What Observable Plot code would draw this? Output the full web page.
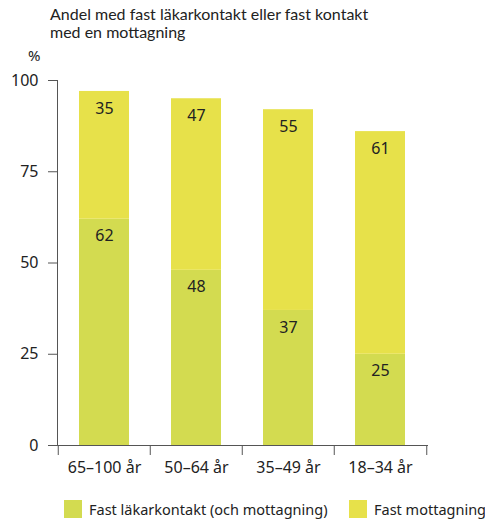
<!DOCTYPE html>
<html>
<head>
<meta charset="utf-8">
<script src="https://cdn.jsdelivr.net/npm/d3@7"></script>
<script src="https://cdn.jsdelivr.net/npm/@observablehq/plot@0.6"></script>
<style>
  body { margin: 0; background: #fff; }
  #wrap { position: relative; width: 485px; height: 521px; font-family: "Noto Sans", sans-serif; color: #222; }
  .tl { position: absolute; left: 50px; font-family: Lato, "Noto Sans", sans-serif; font-size: 16px; line-height: 18px; height: 18px; white-space: nowrap; }
  #unit { position: absolute; left: 28px; top: 47px; font-size: 15px; line-height: 17px; }
  #chart { position: absolute; left: 0; top: 0; }
  .item { position: absolute; top: 500px; font-size: 14.5px; line-height: 18px; white-space: nowrap; display: flex; align-items: center; }
  .sw { width: 18px; height: 18px; display: inline-block; margin-right: 7px; flex: none; }
</style>
</head>
<body>
<div id="wrap">
  <div class="tl" style="top:5px">Andel med fast läkarkontakt eller fast kontakt</div>
  <div class="tl" style="top:23px">med en mottagning</div>
  <div id="unit">%</div>
  <div id="chart"></div>
</div>
<script>
const categories = ["65–100 år", "50–64 år", "35–49 år", "18–34 år"];
const seriesNames = ["Fast läkarkontakt (och mottagning)", "Fast mottagning"];
const lakarkontakt = [62, 48, 37, 25];
const mottagning = [35, 47, 55, 61];
const yTicks = [0, 25, 50, 75, 100];
const colors = ["#d3db50", "#e7e14a"];

const data = [];
categories.forEach((c, i) => {
  data.push({cat: c, series: seriesNames[0], value: lakarkontakt[i]});
  data.push({cat: c, series: seriesNames[1], value: mottagning[i]});
});

const width = 485, marginLeft = 57, marginRight = 58;
const step = (width - marginLeft - marginRight) / categories.length;

const plot = Plot.plot({
  width,
  height: 485,
  marginTop: 80,
  marginBottom: 40,
  marginLeft,
  marginRight,
  style: {fontFamily: "Noto Sans, sans-serif", fontSize: "15px", color: "#222", background: "transparent"},
  x: {domain: categories, paddingInner: 0.46, paddingOuter: 0.23, label: null},
  y: {domain: [0, 100], label: null},
  color: {domain: seriesNames, range: colors},
  marks: [
    Plot.barY(data, {x: "cat", y: "value", fill: "series"}),
    Plot.text(data, Plot.stackY2({x: "cat", y: "value", text: "value", dy: 17, fill: "#222", fontSize: 16})),
    Plot.frame({anchor: "left", stroke: "#555"}),
    Plot.frame({anchor: "bottom", stroke: "#555"}),
    Plot.axisY({ticks: yTicks, tickSize: 9, tickPadding: 10, stroke: "#555", fontSize: 16, label: null}),
    Plot.axisX({tickSize: 10, dx: -step / 2, text: null, stroke: "#555", label: null}),
    Plot.axisX({ticks: categories.slice(-1), tickSize: 10, dx: step / 2, text: null, stroke: "#555", label: null}),
    Plot.axisX({tickSize: 0, tickPadding: 16, fontSize: 16, label: null})
  ]
});
document.getElementById("chart").appendChild(plot);

const wrap = document.getElementById("wrap");
const legendLeft = [64, 349];
seriesNames.forEach((s, i) => {
  const item = document.createElement("div");
  item.className = "item";
  item.style.left = legendLeft[i] + "px";
  const sw = document.createElement("span");
  sw.className = "sw";
  sw.style.background = colors[i];
  item.appendChild(sw);
  item.appendChild(document.createTextNode(s));
  wrap.appendChild(item);
});
</script>
</body>
</html>
